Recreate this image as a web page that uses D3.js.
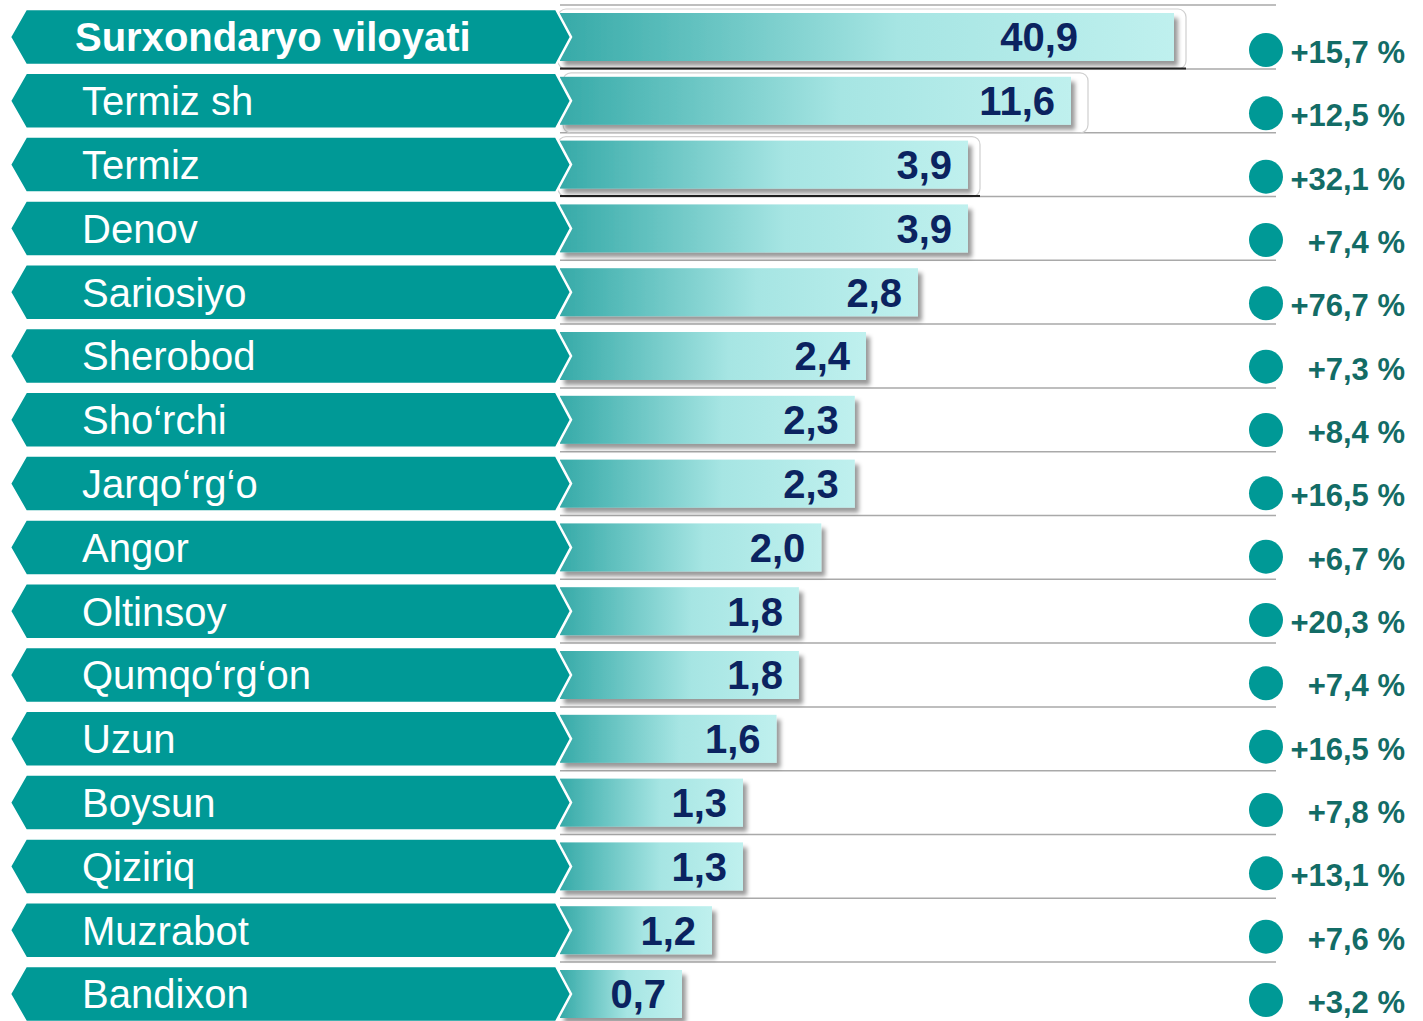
<!DOCTYPE html>
<html>
<head>
<meta charset="utf-8">
<script src="https://cdn.jsdelivr.net/npm/d3@7"></script>
<style>
  body { margin: 0; background: #fff; }
  svg { display: block; }
  text { font-family: Arial, "Liberation Sans", sans-serif; }
</style>
</head>
<body>
<script>
// DATA
var districts = ["Surxondaryo viloyati", "Termiz sh", "Termiz", "Denov", "Sariosiyo", "Sherobod",
    "Sho\u2018rchi", "Jarqo\u2018rg\u2018o", "Angor", "Oltinsoy", "Qumqo\u2018rg\u2018on", "Uzun",
    "Boysun", "Qiziriq", "Muzrabot", "Bandixon"];
var values = [40.9, 11.6, 3.9, 3.9, 2.8, 2.4, 2.3, 2.3, 2.0, 1.8, 1.8, 1.6, 1.3, 1.3, 1.2, 0.7];
var growth = [15.7, 12.5, 32.1, 7.4, 76.7, 7.3, 8.4, 16.5, 6.7, 20.3, 7.4, 16.5, 7.8, 13.1, 7.6, 3.2];

var width = 1423, height = 1021;
var teal = "#009996";

var svg = d3.select("body").append("svg")
    .attr("width", width)
    .attr("height", height);

var defs = svg.append("defs");

var grad = defs.append("linearGradient").attr("id", "barGrad");
grad.append("stop").attr("offset", "0%").attr("stop-color", "#36aaa8");
grad.append("stop").attr("offset", "55%").attr("stop-color", "#a6e5e3");
grad.append("stop").attr("offset", "100%").attr("stop-color", "#bff0ee");

var shadow = defs.append("filter").attr("id", "shadow")
    .attr("x", "-5%").attr("y", "-20%").attr("width", "115%").attr("height", "160%");
shadow.append("feDropShadow")
    .attr("dx", 4).attr("dy", 5).attr("stdDeviation", 2.2)
    .attr("flood-color", "#000").attr("flood-opacity", 0.4);

// SCALES
var idx = d3.range(districts.length);
var y = d3.scalePoint().domain(idx).range([37, 994]);
var yPct = d3.scalePoint().domain(idx).range([52, 1002]);
var step = y.step();

// broken (piecewise) value axis, as in the original slide
var x = d3.scaleLinear()
    .domain([0, 1.2, 1.3, 2.4, 2.8, 3.9, 11.6, 40.9])
    .range([640, 712, 743, 866, 918, 968, 1071, 1174]);
var barX0 = 560;
var valueMaxX = 1078;

var fmt = function (v) { return d3.format(".1f")(v).replace(".", ","); };

// GRID LINES
svg.append("g").selectAll("line")
    .data(d3.range(districts.length + 1))
    .enter().append("line")
    .attr("x1", barX0).attr("x2", 1276)
    .attr("y1", d => y(0) - step / 2 + d * step)
    .attr("y2", d => y(0) - step / 2 + d * step)
    .attr("stroke", "#a9a9a9")
    .attr("stroke-width", 1.5);

// callout frames left around the first rows
var frames = svg.append("g");
[0, 1, 2].forEach(function (i) {
    frames.append("rect")
        .attr("x", barX0 - 2 + (i === 1 ? 5 : 0))
        .attr("y", y(i) - 28)
        .attr("width", x(values[i]) - barX0 + 14)
        .attr("height", 60)
        .attr("rx", 8)
        .attr("fill", "none")
        .attr("stroke", "#cfcfcf")
        .attr("stroke-width", 1.2);
});
[0, 2].forEach(function (i) {
    frames.append("line")
        .attr("x1", barX0).attr("x2", x(values[i]) + 12)
        .attr("y1", y(i) + 31.5).attr("y2", y(i) + 31.5)
        .attr("stroke", "#222").attr("stroke-width", 2);
});

// BARS
svg.append("g").selectAll("rect")
    .data(idx)
    .enter().append("rect")
    .attr("x", barX0)
    .attr("y", d => y(d) - 24)
    .attr("width", d => x(values[d]) - barX0)
    .attr("height", 48)
    .attr("fill", "url(#barGrad)")
    .attr("filter", "url(#shadow)");

// BANNERS
var banner = function (cy) {
    var h = 28;
    return "M10," + cy + "L26," + (cy - h) + "L556," + (cy - h) + "L571," + cy +
        "L556," + (cy + h) + "L26," + (cy + h) + "Z";
};
svg.append("g").selectAll("path")
    .data(idx)
    .enter().append("path")
    .attr("d", d => banner(y(d)))
    .attr("fill", teal)
    .attr("stroke", "#fff")
    .attr("stroke-width", 2.5);

svg.append("g").selectAll("text")
    .data(idx)
    .enter().append("text")
    .attr("x", d => d === 0 ? 75 : 82)
    .attr("y", d => y(d))
    .attr("dy", "0.36em")
    .attr("fill", "#fff")
    .style("font-size", "40px")
    .style("font-weight", d => d === 0 ? "bold" : "normal")
    .text(d => districts[d]);

// VALUE LABELS
svg.append("g").selectAll("text")
    .data(idx)
    .enter().append("text")
    .attr("x", d => Math.min(x(values[d]) - 16, valueMaxX))
    .attr("y", d => y(d))
    .attr("dy", "0.36em")
    .attr("text-anchor", "end")
    .attr("fill", "#0b2360")
    .style("font-size", "40px")
    .style("font-weight", "bold")
    .text(d => fmt(values[d]));

// GROWTH MARKERS
svg.append("g").selectAll("circle")
    .data(idx)
    .enter().append("circle")
    .attr("cx", 1266)
    .attr("cy", d => yPct(d) - 2)
    .attr("r", 17)
    .attr("fill", teal);

svg.append("g").selectAll("text")
    .data(idx)
    .enter().append("text")
    .attr("x", 1405)
    .attr("y", d => yPct(d))
    .attr("dy", "0.36em")
    .attr("text-anchor", "end")
    .attr("fill", "#136c66")
    .style("font-size", "31px")
    .style("font-weight", "bold")
    .text(d => "+" + fmt(growth[d]) + " %");
</script>
</body>
</html>
